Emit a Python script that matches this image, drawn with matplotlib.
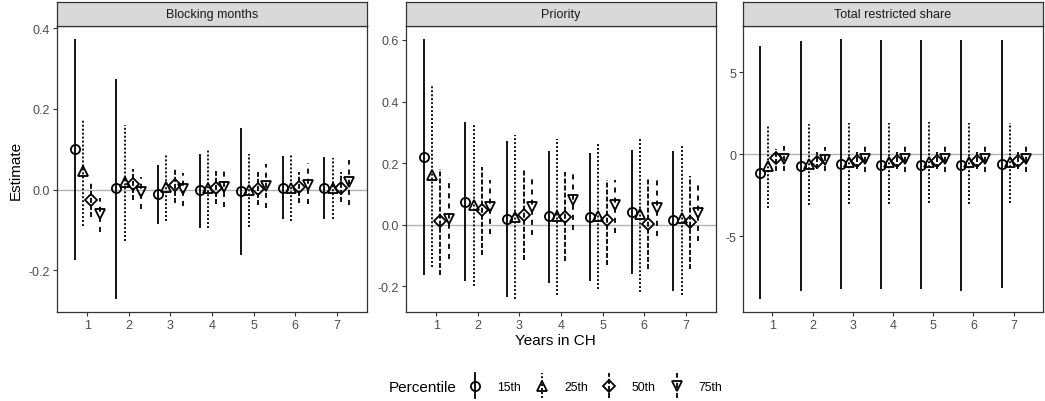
import matplotlib
matplotlib.use("Agg")
import matplotlib.pyplot as plt
from matplotlib.lines import Line2D
from matplotlib.legend_handler import HandlerBase
import numpy as np

plt.rcParams["font.family"] = ["Liberation Sans", "DejaVu Sans"]
plt.rcParams["axes.unicode_minus"] = False

# years since arrival, one group of estimates per year
years = [1, 2, 3, 4, 5, 6, 7]
percentiles = ["15th", "25th", "50th", "75th"]
panel_titles = ["Blocking months", "Priority", "Total restricted share"]

# Blocking months: point estimates and CI bounds, rows = percentiles
block_est = [[0.100, 0.003, -0.010, -0.002, -0.003, 0.005, 0.004],
             [0.046, 0.020, 0.007, 0.004, 0.000, 0.005, 0.004],
             [-0.027, 0.015, 0.011, 0.004, 0.001, 0.006, 0.004],
             [-0.060, -0.007, 0.001, 0.006, 0.008, 0.012, 0.018]]
block_lo = [[-0.174, -0.271, -0.084, -0.094, -0.161, -0.074, -0.074],
            [-0.089, -0.128, -0.079, -0.094, -0.093, -0.079, -0.072],
            [-0.068, -0.027, -0.032, -0.035, -0.039, -0.032, -0.031],
            [-0.104, -0.049, -0.041, -0.043, -0.046, -0.036, -0.039]]
block_hi = [[0.373, 0.275, 0.062, 0.089, 0.152, 0.084, 0.081],
            [0.176, 0.161, 0.085, 0.099, 0.089, 0.085, 0.079],
            [0.016, 0.052, 0.052, 0.046, 0.044, 0.044, 0.044],
            [-0.020, 0.031, 0.040, 0.056, 0.063, 0.066, 0.073]]

# Priority
prio_est = [[0.220, 0.074, 0.020, 0.028, 0.025, 0.043, 0.014],
            [0.160, 0.065, 0.025, 0.028, 0.028, 0.036, 0.023],
            [0.011, 0.047, 0.033, 0.025, 0.014, 0.003, 0.009],
            [0.020, 0.057, 0.057, 0.079, 0.063, 0.054, 0.038]]
prio_lo = [[-0.163, -0.184, -0.233, -0.189, -0.184, -0.159, -0.214],
           [-0.138, -0.199, -0.241, -0.228, -0.208, -0.219, -0.228],
           [-0.163, -0.098, -0.113, -0.119, -0.130, -0.145, -0.143],
           [-0.111, -0.029, -0.033, -0.018, -0.026, -0.038, -0.054]]
prio_hi = [[0.603, 0.334, 0.272, 0.241, 0.233, 0.244, 0.241],
           [0.455, 0.328, 0.290, 0.280, 0.261, 0.283, 0.261],
           [0.182, 0.188, 0.177, 0.171, 0.144, 0.150, 0.158],
           [0.152, 0.144, 0.150, 0.171, 0.146, 0.144, 0.130]]

# Total restricted share
share_est = [[-1.12, -0.71, -0.61, -0.63, -0.63, -0.65, -0.60],
             [-0.71, -0.57, -0.47, -0.50, -0.47, -0.50, -0.47],
             [-0.24, -0.45, -0.41, -0.42, -0.40, -0.42, -0.42],
             [-0.30, -0.35, -0.31, -0.31, -0.31, -0.31, -0.31]]
share_lo = [[-8.84, -8.33, -8.22, -8.22, -8.25, -8.33, -8.18],
            [-3.27, -3.12, -3.02, -3.02, -2.96, -3.02, -3.00],
            [-1.00, -0.92, -0.92, -0.92, -0.92, -0.92, -0.92],
            [-1.00, -1.00, -1.08, -1.08, -1.08, -1.08, -1.08]]
share_hi = [[6.63, 6.92, 7.04, 6.98, 6.98, 6.98, 6.98],
            [1.73, 1.82, 1.88, 1.88, 1.98, 1.88, 1.90],
            [0.35, 0.14, 0.16, 0.16, 0.16, 0.16, 0.16],
            [0.50, 0.47, 0.51, 0.51, 0.51, 0.51, 0.51]]

y_ticks = [[-0.2, 0.0, 0.2, 0.4],
           [-0.2, 0.0, 0.2, 0.4, 0.6],
           [-5, 0, 5]]
y_ticklabels = [["-0.2", "0.0", "0.2", "0.4"],
                ["-0.2", "0.0", "0.2", "0.4", "0.6"],
                ["-5", "0", "5"]]

panels = [(block_est, block_lo, block_hi),
          (prio_est, prio_lo, prio_hi),
          (share_est, share_lo, share_hi)]

# styling per percentile
offsets = [-0.3, -0.1, 0.1, 0.3]
markers = ["o", "^", "D", "v"]
msizes = [6.6, 7.4, 5.9, 7.4]
dashes = [None, (1.1, 1.1), (2.8, 1.1), (2.8, 2.8)]

W, H = 1045, 402
fig = plt.figure(figsize=(W / 100, H / 100), dpi=100)

dark = "#333333"
tick_col = "#4D4D4D"
LW = 1.3


def px_axes(l, t, r, b):
    return fig.add_axes([l / W, 1 - b / H, (r - l) / W, (b - t) / H])


def ls_of(d):
    return "solid" if d is None else (0, d)


lefts = [57, 406, 743]
rights = [367, 716, 1043]
top, bottom, strip_top = 27, 313, 3

for i, (est, lo, hi) in enumerate(panels):
    ax = px_axes(lefts[i], top, rights[i], bottom)
    ax.axhline(0, color="#B3B3B3", lw=1.0, zorder=1)
    for k in range(4):
        xs = np.array(years) + offsets[k]
        ax.vlines(xs, lo[k], hi[k], colors="black", linewidth=LW,
                  linestyles=ls_of(dashes[k]), zorder=2)
        ax.plot(xs, est[k], linestyle="none", marker=markers[k],
                markersize=msizes[k], markerfacecolor="none",
                markeredgecolor="black", markeredgewidth=1.3, zorder=3)
    ymin = min(min(r) for r in lo)
    ymax = max(max(r) for r in hi)
    pad = (ymax - ymin) * 0.05
    ax.set_ylim(ymin - pad, ymax + pad)
    ax.set_xlim(0.27, 7.73)
    ax.set_xticks(years)
    ax.set_xticklabels([str(y) for y in years])
    ax.set_yticks(y_ticks[i])
    ax.set_yticklabels(y_ticklabels[i])
    ax.tick_params(length=3, width=0.8, color=dark, labelcolor=tick_col,
                   labelsize=9, pad=2)
    for s in ax.spines.values():
        s.set_color(dark)
        s.set_linewidth(0.9)
    if i == 0:
        ax.set_ylabel("Estimate", fontsize=11, color="black", labelpad=4)

    # facet strip
    st = px_axes(lefts[i], strip_top, rights[i], top)
    st.set_facecolor("#D9D9D9")
    st.set_xticks([])
    st.set_yticks([])
    for s in st.spines.values():
        s.set_color(dark)
        s.set_linewidth(0.9)
    st.text(0.5, 0.5, panel_titles[i], ha="center", va="center",
            fontsize=9, color="#1A1A1A", transform=st.transAxes)

fig.text(555 / W, 1 - 341 / H, "Years in CH", ha="center", va="center",
         fontsize=11)


class KeyHandler(HandlerBase):
    def __init__(self, marker, ms, dash):
        super().__init__()
        self.marker = marker
        self.ms = ms
        self.dash = dash

    def create_artists(self, legend, orig, xd, yd, w, h, fs, trans):
        cx = -xd + w / 2
        cy = -yd + h / 2
        bar = Line2D([cx, cx], [cy - 9, cy + 9], color="black", lw=LW,
                     linestyle=ls_of(self.dash), transform=trans)
        mk = Line2D([cx], [cy], marker=self.marker, markersize=self.ms,
                    markerfacecolor="none", markeredgecolor="black",
                    markeredgewidth=1.3, linestyle="none", transform=trans)
        return [bar, mk]


handles = [Line2D([], [], label=p) for p in percentiles]
hmap = {h: KeyHandler(markers[k], msizes[k], dashes[k])
        for k, h in enumerate(handles)}
fig.legend(handles=handles, labels=percentiles, handler_map=hmap, ncol=4,
           loc="center left", bbox_to_anchor=(469 / W, 1 - 388 / H),
           frameon=False, fontsize=8.8, handlelength=1.0, handletextpad=1.3,
           columnspacing=1.25, borderpad=0, borderaxespad=0)
fig.text(389 / W, 1 - 388 / H, "Percentile", ha="left", va="center",
         fontsize=11)

fig.savefig("out.png", dpi=100)
